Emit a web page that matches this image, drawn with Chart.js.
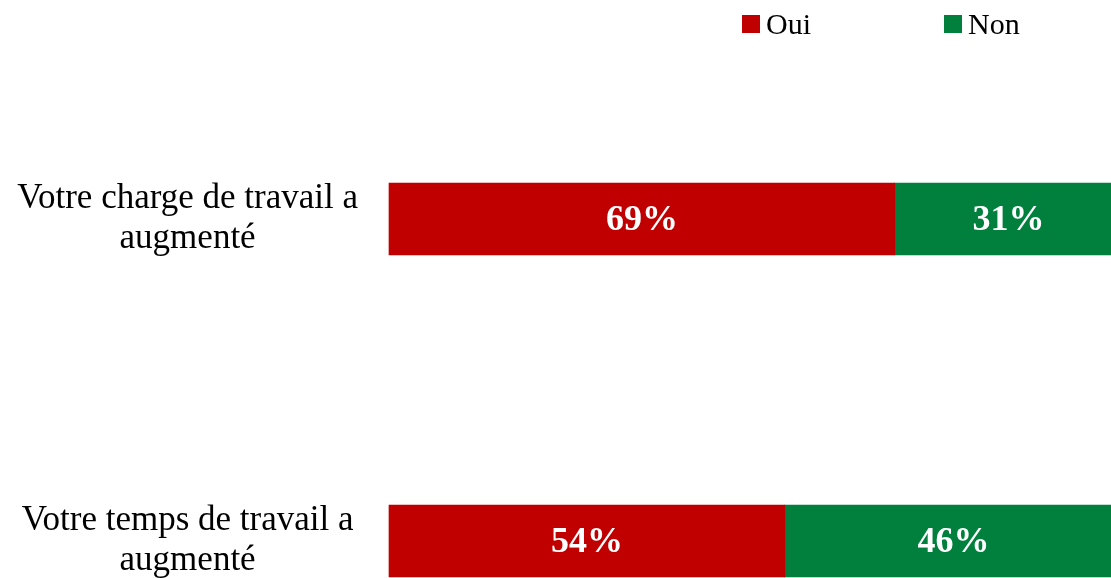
<!DOCTYPE html>
<html lang="fr">
<head>
<meta charset="utf-8">
<title>Charge et temps de travail</title>
<script src="https://cdn.jsdelivr.net/npm/chart.js@4.4.1/dist/chart.umd.min.js"></script>
<style>
  html, body { margin: 0; background: #fff; overflow: hidden; }
  #wrap { position: relative; width: 1122px; height: 578px; }
  #legend { position: absolute; top: 9px; left: 742px; display: flex; font: 30px "Liberation Serif", serif; line-height: 30px; color: #000; }
  #legend .item { display: flex; align-items: center; width: 202px; }
  #legend .box { width: 18px; height: 18px; margin-right: 6px; }
</style>
</head>
<body>
<div id="wrap">
  <canvas id="chart"></canvas>
  <div id="legend"></div>
</div>
<script>
// données
const categories = [
    ['Votre charge de travail a', 'augmenté'],
    ['Votre temps de travail a', 'augmenté']
];
const seriesNames = ['Oui', 'Non'];
const ouiValues = [69, 54];
const nonValues = [31, 46];

const RED = '#C00000';
const GREEN = '#00803C';
const FONT = '"Liberation Serif", "DejaVu Serif", serif';

// étiquettes blanches au centre de chaque barre
const barLabels = {
    id: 'barLabels',
    afterDatasetsDraw(chart) {
        const ctx = chart.ctx;
        ctx.save();
        ctx.font = 'bold 36px ' + FONT;
        ctx.fillStyle = '#fff';
        ctx.textAlign = 'center';
        ctx.textBaseline = 'middle';
        chart.data.datasets.forEach(function(ds, i) {
            chart.getDatasetMeta(i).data.forEach(function(bar, j) {
                const p = bar.getProps(['x', 'y', 'base'], true);
                ctx.fillText(ds.data[j] + '%', (p.x + p.base) / 2, p.y + 2);
            });
        });
        ctx.restore();
    }
};

const chart = new Chart(document.getElementById('chart').getContext('2d'), {
    type: 'bar',
    data: {
        labels: categories,
        datasets: [
            { label: seriesNames[0], data: ouiValues, backgroundColor: RED, barThickness: 72, clip: false },
            { label: seriesNames[1], data: nonValues, backgroundColor: GREEN, barThickness: 72, clip: false }
        ]
    },
    options: {
        indexAxis: 'y',
        responsive: true,
        maintainAspectRatio: false,
        animation: false,
        layout: { padding: { top: 219, bottom: 37, left: 0, right: 0 } },
        plugins: {
            legend: { display: false },
            tooltip: { enabled: false }
        },
        scales: {
            x: { stacked: true, min: 0, max: 100, display: false },
            y: {
                stacked: true,
                offset: false,
                grid: { display: false, drawTicks: false },
                border: { display: false },
                ticks: {
                    crossAlign: 'center',
                    padding: 31,
                    color: '#000',
                    font: { family: FONT, size: 35, lineHeight: 1.14 }
                },
                afterFit: function(s) {
                    s.width = 389;
                    s.paddingTop = 0;
                    s.paddingBottom = 0;
                }
            }
        }
    },
    plugins: [barLabels]
});

// légende en HTML, construite à partir des séries
const legend = document.getElementById('legend');
chart.data.datasets.forEach(function(ds) {
    const item = document.createElement('div');
    item.className = 'item';
    const box = document.createElement('span');
    box.className = 'box';
    box.style.background = ds.backgroundColor;
    item.appendChild(box);
    item.appendChild(document.createTextNode(ds.label));
    legend.appendChild(item);
});
</script>
</body>
</html>
